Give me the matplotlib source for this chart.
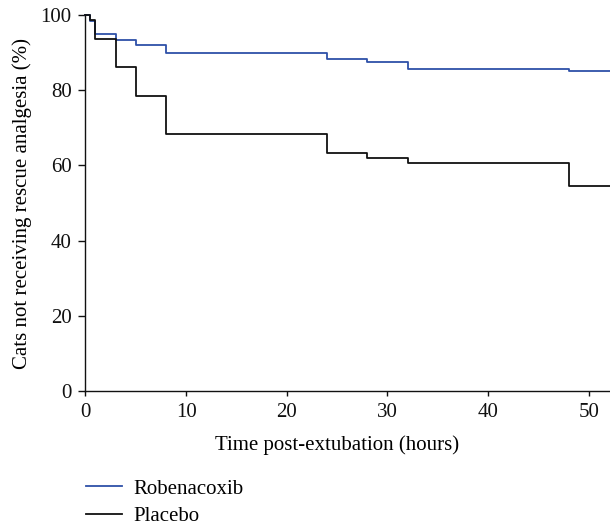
import matplotlib
matplotlib.use("Agg")
import matplotlib.pyplot as plt

# Kaplan-Meier step data (time in hours, % not receiving rescue analgesia)
robenacoxib_t = [0, 0.5, 1, 3, 5, 8, 24, 28, 32, 48, 53]
robenacoxib_s = [100, 98.4, 95.1, 93.3, 92.1, 90.0, 88.3, 87.6, 85.6, 85.1, 85.1]
placebo_t = [0, 0.5, 1, 3, 5, 8, 24, 28, 32, 48, 53]
placebo_s = [100, 98.8, 93.6, 86.1, 78.4, 68.3, 63.3, 62.1, 60.6, 54.5, 54.5]

xticks = [0, 10, 20, 30, 40, 50]
yticks = [0, 20, 40, 60, 80, 100]

plt.rcParams['font.family'] = ['Liberation Serif', 'DejaVu Serif']

FS = 15

fig = plt.figure(figsize=(6.10, 5.24), dpi=100)
ax = fig.add_axes([0.140, 0.254, 0.86, 0.717])

ax.step(robenacoxib_t, robenacoxib_s, where='post', color='#2e50a8', lw=1.3,
        label='Robenacoxib', clip_on=False)
ax.step(placebo_t, placebo_s, where='post', color='#111111', lw=1.3,
        label='Placebo', clip_on=False)

ax.set_xlim(0, 52.1)
ax.set_ylim(0, 100)
ax.set_xticks(xticks)
ax.set_yticks(yticks)
ax.tick_params(axis='x', direction='out', length=3.5, width=1, labelsize=FS, pad=5, colors='#111111')
ax.tick_params(axis='y', direction='out', length=5, width=1, labelsize=FS, pad=5, colors='#111111')
for s in ['top', 'right']:
    ax.spines[s].set_visible(False)
for s in ['left', 'bottom']:
    ax.spines[s].set_linewidth(1)
    ax.spines[s].set_color('#111111')

ax.set_xlabel('Time post-extubation (hours)', fontsize=FS)
ax.xaxis.set_label_coords(0.480, -0.118)
ax.set_ylabel('Cats not receiving rescue analgesia (%)', fontsize=FS, labelpad=6)

handles, labels = ax.get_legend_handles_labels()
leg = fig.legend(handles, labels, loc='upper left', bbox_to_anchor=(0.141, 0.086),
                 frameon=False, fontsize=FS, handlelength=1.75, handletextpad=0.5,
                 labelspacing=0.38, borderaxespad=0, borderpad=0)

fig.savefig('out.png', dpi=100)
